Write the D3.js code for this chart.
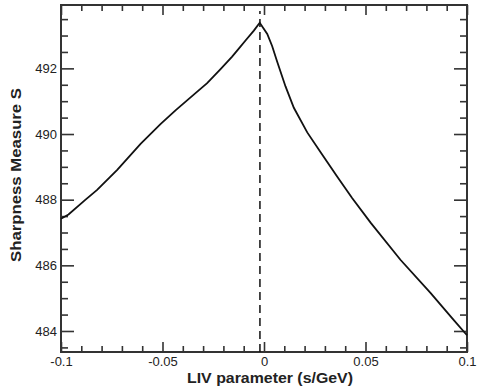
<!DOCTYPE html>
<html>
<head>
<meta charset="utf-8">
<script src="https://cdn.jsdelivr.net/npm/d3@7"></script>
<style>
body { margin: 0; background: #fff; }
text { font-family: "Liberation Sans", Arial, sans-serif; fill: #222; }
.frame { fill: none; stroke: #333; stroke-width: 2px; }
.tick line { stroke: #333; stroke-width: 1.6px; }
.curve { fill: none; stroke: #111; stroke-width: 1.8px; }
.peak { stroke: #111; stroke-width: 1.5px; stroke-dasharray: 8,5; }
</style>
</head>
<body>
<script>
// LIV parameter (s/GeV) vs sharpness S
var livX = [-0.1, -0.0963, -0.0879, -0.0822, -0.0723, -0.0608, -0.051, -0.0436,
  -0.0346, -0.028, -0.0214, -0.0157, -0.0116, -0.0091, -0.005, -0.0021,
  0.0016, 0.004, 0.0065, 0.0106, 0.0147, 0.0213, 0.0278, 0.0361, 0.0434,
  0.0525, 0.0672, 0.082, 0.0935, 0.1];
var sharp = [487.42, 487.55, 488.0, 488.3, 488.91, 489.7, 490.3, 490.72,
  491.2, 491.55, 491.98, 492.36, 492.66, 492.85, 493.15, 493.39,
  493.05, 492.68, 492.2, 491.45, 490.8, 490.05, 489.45, 488.7, 488.05,
  487.3, 486.17, 485.16, 484.33, 483.87];
var peakX = -0.002;
var xTicks = [-0.1, -0.05, 0, 0.05, 0.1];
var yTicks = [484, 486, 488, 490, 492];

var width = 478, height = 390;
// note: "top" is taken by window.top, so use m* names
var mLeft = 61, mRight = 467, mTop = 5, mBottom = 352;

var svg = d3.select("body").append("svg")
    .attr("width", width)
    .attr("height", height);

var x = d3.scaleLinear().domain([-0.1, 0.1]).range([mLeft, mRight]);
var y = d3.scaleLinear().domain([483.36, 493.93]).range([mBottom, mTop]);

var xMinor = d3.range(-10, 11).map(function(i) { return i / 100; })
    .filter(function(v) { return Math.round(v * 100) % 5 != 0; });
var yMinor = d3.range(967, 988).map(function(i) { return i / 2; })
    .filter(function(v) { return v % 2 != 0 && v > 483.36 && v < 493.93; });

function fmtX(d) { return String(+d.toFixed(2)); }

// bottom axis, ticks pointing in
svg.append("g").attr("transform", "translate(0," + mBottom + ")")
    .call(d3.axisBottom(x).tickValues(xTicks).tickSizeInner(-10).tickSizeOuter(0).tickPadding(5).tickFormat(fmtX))
    .call(function(g) { g.select(".domain").remove(); g.selectAll("text").attr("font-size", 13); });
svg.append("g").attr("transform", "translate(0," + mBottom + ")")
    .call(d3.axisBottom(x).tickValues(xMinor).tickSizeInner(-6).tickSizeOuter(0).tickFormat(""))
    .call(function(g) { g.select(".domain").remove(); });
// top axis
svg.append("g").attr("transform", "translate(0," + mTop + ")")
    .call(d3.axisTop(x).tickValues(xTicks).tickSizeInner(-10).tickSizeOuter(0).tickFormat(""))
    .call(function(g) { g.select(".domain").remove(); });
svg.append("g").attr("transform", "translate(0," + mTop + ")")
    .call(d3.axisTop(x).tickValues(xMinor).tickSizeInner(-6).tickSizeOuter(0).tickFormat(""))
    .call(function(g) { g.select(".domain").remove(); });

// left axis
svg.append("g").attr("transform", "translate(" + mLeft + ",0)")
    .call(d3.axisLeft(y).tickValues(yTicks).tickSizeInner(-13).tickSizeOuter(0).tickPadding(4).tickFormat(d3.format("d")))
    .call(function(g) { g.select(".domain").remove(); g.selectAll("text").attr("font-size", 13); });
svg.append("g").attr("transform", "translate(" + mLeft + ",0)")
    .call(d3.axisLeft(y).tickValues(yMinor).tickSizeInner(-7).tickSizeOuter(0).tickFormat(""))
    .call(function(g) { g.select(".domain").remove(); });
// right axis
svg.append("g").attr("transform", "translate(" + mRight + ",0)")
    .call(d3.axisRight(y).tickValues(yTicks).tickSizeInner(-13).tickSizeOuter(0).tickFormat(""))
    .call(function(g) { g.select(".domain").remove(); });
svg.append("g").attr("transform", "translate(" + mRight + ",0)")
    .call(d3.axisRight(y).tickValues(yMinor).tickSizeInner(-7).tickSizeOuter(0).tickFormat(""))
    .call(function(g) { g.select(".domain").remove(); });

svg.append("rect").attr("class", "frame")
    .attr("x", mLeft).attr("y", mTop)
    .attr("width", mRight - mLeft).attr("height", mBottom - mTop);

// dashed line at the peak
svg.append("line").attr("class", "peak")
    .attr("x1", x(peakX)).attr("x2", x(peakX))
    .attr("y1", mBottom).attr("y2", mTop + 6);

var pts = livX.map(function(v, i) { return [v, sharp[i]]; });
svg.append("path").attr("class", "curve")
    .attr("d", d3.line().x(function(d) { return x(d[0]); }).y(function(d) { return y(d[1]); })(pts));

svg.append("text")
    .attr("x", 187).attr("y", 383)
    .attr("font-size", 15).attr("font-weight", "bold")
    .attr("textLength", 166).attr("lengthAdjust", "spacingAndGlyphs")
    .text("LIV parameter (s/GeV)");

svg.append("text")
    .attr("transform", "translate(21,262) rotate(-90)")
    .attr("font-size", 15).attr("font-weight", "bold")
    .attr("textLength", 174).attr("lengthAdjust", "spacingAndGlyphs")
    .text("Sharpness Measure S");
</script>
</body>
</html>
